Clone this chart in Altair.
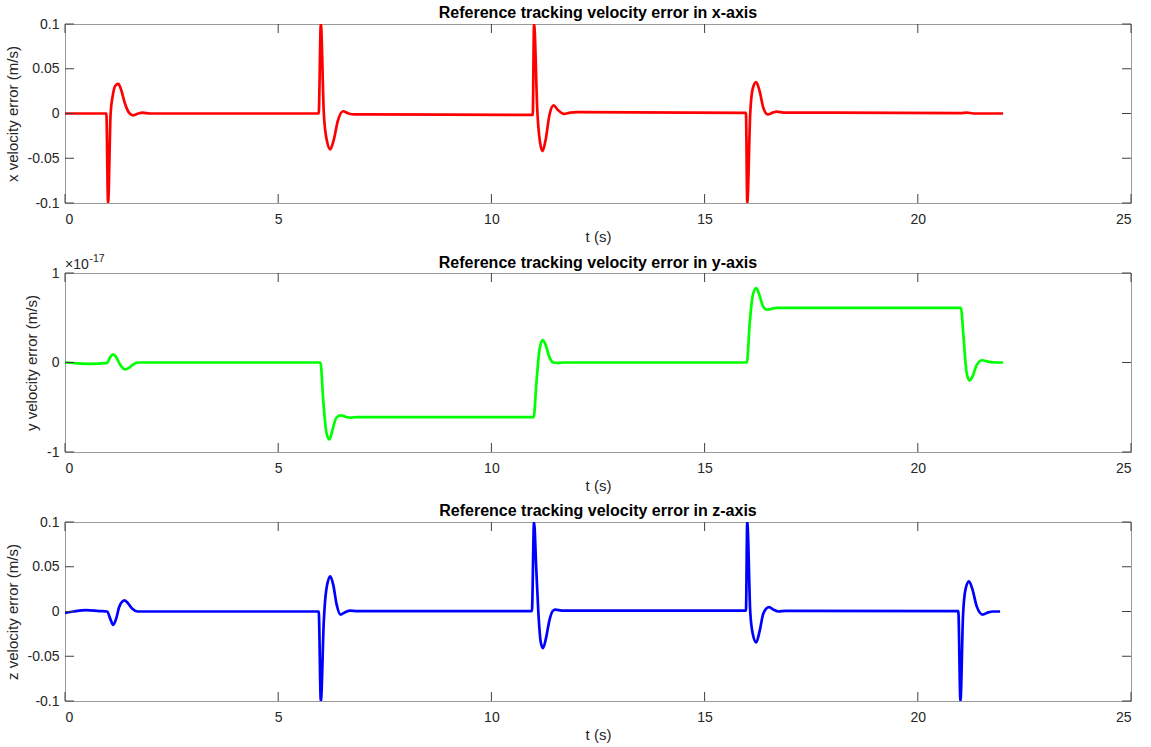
import altair as alt
import pandas as pd

# ---- data ----
x_t = [0.0, 0.97, 1.01, 1.07, 1.12, 1.18, 1.25, 1.32, 1.40, 1.50, 1.60, 1.72, 1.81, 2.0,
       5.95, 6.0, 6.07, 6.14, 6.22, 6.30, 6.40, 6.52, 6.65, 6.80, 7.0,
       10.97, 11.0, 11.08, 11.14, 11.2, 11.27, 11.36, 11.46, 11.56, 11.7, 11.85, 12.0,
       15.97, 16.0, 16.07, 16.13, 16.21, 16.29, 16.38, 16.48, 16.6, 16.69, 16.85, 18.0,
       21.0, 21.15, 21.3, 22.0]
x_v = [0.0, 0.0, -0.1, 0.0, 0.02, 0.031, 0.033, 0.026, 0.012, 0.001, -0.002, 0.0, 0.001, 0.0,
       0.0, 0.1, 0.0, -0.03, -0.04, -0.03, -0.008, 0.0025, 0.0, -0.001, -0.001,
       -0.0015, 0.1, 0.0, -0.032, -0.042, -0.03, -0.002, 0.009, 0.004, -0.0005, 0.001, 0.0015,
       0.0008, -0.1, 0.0, 0.028, 0.035, 0.025, 0.006, -0.001, 0.001, 0.002, 0.001, 0.001,
       0.0005, 0.001, 0.0, 0.0]

# y velocity error, in units of 1e-17 m/s
y_t = [0.0, 0.3, 0.6, 0.99, 1.06, 1.13, 1.2, 1.3, 1.4, 1.5, 1.62, 1.73,
       5.99, 6.06, 6.13, 6.2, 6.27, 6.36, 6.46, 6.57, 6.69, 6.85,
       10.99, 11.06, 11.13, 11.2, 11.27, 11.36, 11.45, 11.55, 11.7,
       15.99, 16.06, 16.13, 16.21, 16.28, 16.37, 16.46, 16.56, 16.7,
       21.01, 21.07, 21.14, 21.21, 21.29, 21.38, 21.51, 21.65, 21.85, 22.0]
y_v = [0.0, -0.01, -0.015, -0.005, 0.06, 0.09, 0.06, -0.03, -0.076, -0.06, -0.015, 0.0,
       0.0, -0.45, -0.78, -0.86, -0.76, -0.62, -0.59, -0.605, -0.616, -0.61,
       -0.61, -0.2, 0.15, 0.25, 0.2, 0.06, 0.0, -0.005, 0.0,
       0.0, 0.45, 0.75, 0.83, 0.76, 0.63, 0.59, 0.6, 0.61,
       0.61, 0.3, -0.1, -0.2, -0.15, -0.03, 0.025, 0.01, 0.0, 0.0]

z_t = [0.0, 0.2, 0.5, 0.8, 0.99, 1.06, 1.13, 1.2, 1.27, 1.34, 1.4, 1.48, 1.58, 1.7,
       5.95, 6.0, 6.07, 6.13, 6.22, 6.29, 6.37, 6.46, 6.56, 6.69, 6.85,
       10.95, 11.0, 11.05, 11.1, 11.16, 11.21, 11.28, 11.36, 11.43, 11.5, 11.65,
       15.97, 16.0, 16.07, 16.13, 16.21, 16.29, 16.38, 16.51, 16.62, 16.73, 16.9,
       20.95, 21.0, 21.06, 21.12, 21.2, 21.28, 21.38, 21.52, 21.65, 21.77, 21.93]
z_v = [-0.0015, 0.0, 0.0015, 0.0005, 0.0, -0.008, -0.015, -0.008, 0.005, 0.011, 0.0124, 0.009, 0.003, 0.0,
       0.0, -0.1, -0.01, 0.025, 0.0393, 0.03, 0.008, -0.0034, -0.001, 0.001, 0.0005,
       0.0005, 0.1, 0.05, 0.0, -0.035, -0.041, -0.03, -0.01, 0.0, 0.002, 0.001,
       0.001, 0.1, 0.0, -0.025, -0.0345, -0.022, -0.002, 0.0048, 0.002, 0.0, 0.0008,
       0.0005, -0.1, -0.005, 0.025, 0.0337, 0.025, 0.006, -0.0034, -0.001, 0.0, 0.0]

x_ticks = [0, 5, 10, 15, 20, 25]
small_ticks = [-0.1, -0.05, 0, 0.05, 0.1]
y_ticks = [-1, 0, 1]

FONT = "Liberation Sans"
W, H = 1066, 179
TICK = 9
TICK_COLOR = "#404040"


def panel(t, v, color, title, ytitle, ydomain, yticks, exponent=False):
    df = pd.DataFrame({"t": t, "v": v})
    xs = alt.Scale(domain=[0, 25], nice=False, zero=False)
    ys = alt.Scale(domain=ydomain, nice=False, zero=False)
    main_x = alt.Axis(values=x_ticks, orient="bottom", ticks=False, tickSize=0, domain=False,
                      grid=False, labelPadding=9, title="t (s)", titlePadding=3,
                      labelExpr="toString(datum.value)")
    main_y = alt.Axis(values=yticks, orient="left", ticks=False, tickSize=0, domain=False,
                      grid=False, labelPadding=6, title=ytitle, titlePadding=7,
                      labelExpr="toString(datum.value)")

    line = alt.Chart(df).mark_line(color=color, strokeWidth=2.7, clip=True,
                                   interpolate="monotone").encode(
        x=alt.X("t:Q", scale=xs, axis=main_x),
        y=alt.Y("v:Q", scale=ys, axis=main_y),
    )
    xt = alt.Chart(pd.DataFrame({"t": x_ticks}))
    yt = alt.Chart(pd.DataFrame({"v": yticks}))
    rule = dict(color=TICK_COLOR, strokeWidth=1)
    bottom = xt.mark_rule(**rule).encode(
        x=alt.X("t:Q", scale=xs, axis=main_x), y=alt.value(H), y2=alt.value(H - TICK))
    top = xt.mark_rule(**rule).encode(
        x=alt.X("t:Q", scale=xs, axis=main_x), y=alt.value(0), y2=alt.value(TICK))
    left = yt.mark_rule(**rule).encode(
        y=alt.Y("v:Q", scale=ys, axis=main_y), x=alt.value(0), x2=alt.value(TICK))
    right = yt.mark_rule(**rule).encode(
        y=alt.Y("v:Q", scale=ys, axis=main_y), x=alt.value(W), x2=alt.value(W - TICK))
    layers = [line, bottom, top, left, right]
    title_offset = -4
    if exponent:
        e1 = alt.Chart(pd.DataFrame({"s": ["×10"]})).mark_text(
            align="left", baseline="alphabetic", font=FONT, fontSize=14, color="#262626"
        ).encode(x=alt.value(0), y=alt.value(-4.5), text="s:N")
        e2 = alt.Chart(pd.DataFrame({"s": ["-17"]})).mark_text(
            align="left", baseline="alphabetic", font=FONT, fontSize=10.5, color="#262626"
        ).encode(x=alt.value(24.5), y=alt.value(-11), text="s:N")
        layers += [e1, e2]
        title_offset = -17
    return alt.layer(*layers).properties(
        width=W, height=H,
        title=alt.TitleParams(title, font=FONT, fontSize=16, fontWeight="bold", color="#000000",
                              offset=title_offset, anchor="middle", frame="group"),
    )


p1 = panel(x_t, x_v, "#ff0000", "Reference tracking velocity error in x-axis",
           "x velocity error (m/s)", [-0.1, 0.1], small_ticks)
p2 = panel(y_t, y_v, "#00ff00", "Reference tracking velocity error in y-axis",
           "y velocity error (m/s)", [-1, 1], y_ticks, exponent=True)
p3 = panel(z_t, z_v, "#0000ff", "Reference tracking velocity error in z-axis",
           "z velocity error (m/s)", [-0.1, 0.1], small_ticks)

chart = alt.vconcat(p1, p2, p3, spacing=70, bounds="flush").configure(
    padding={"left": 4, "top": 4, "right": 10, "bottom": 4},
    background="white",
).configure_view(
    stroke="#9a9a9a", strokeWidth=1
).configure_axis(
    labelFont=FONT, labelFontSize=14, labelColor="#262626",
    titleFont=FONT, titleFontSize=15, titleColor="#262626", titleFontWeight="normal",
)

chart.save("out.html", embed_options={"renderer": "svg", "actions": False})
